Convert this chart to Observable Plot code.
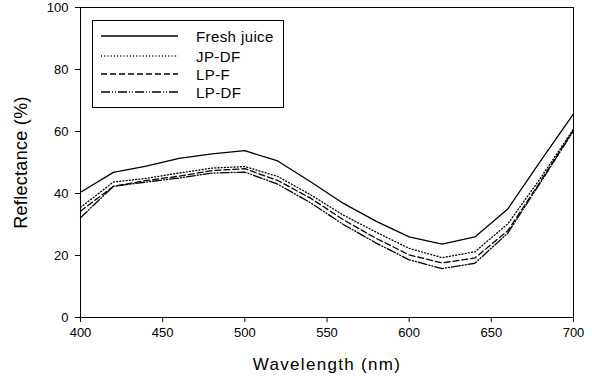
<!DOCTYPE html>
<html>
<head>
<meta charset="utf-8">
<script src="https://cdn.jsdelivr.net/npm/d3@7"></script>
<script src="https://cdn.jsdelivr.net/npm/@observablehq/plot@0.6"></script>
<style>
  html, body { margin: 0; padding: 0; background: #fff; }
  #wrap { position: relative; width: 592px; height: 377px; font-family: Arial, "Liberation Sans", sans-serif; }
  #legend { position: absolute; left: 92px; top: 20px; width: 192px; height: 88px; border: 1px solid #000; box-sizing: border-box; background: #fff; }
  #legend .row { position: absolute; left: 0; height: 18px; display: flex; align-items: center; }
  #legend .row span { font-size: 15px; letter-spacing: 0.4px; color: #000; margin-left: 18px; }
  #legend svg { margin-left: 8px; }
</style>
</head>
<body>
<div id="wrap"></div>
<script>
const wavelengths = [400,420,440,460,480,500,520,540,560,580,600,620,640,660,680,700];
const freshJuice = [40.4,46.8,48.8,51.3,52.8,53.8,50.5,43.8,36.8,31.0,26.0,23.7,26.0,35.0,50.5,65.7];
const jpDF      = [35.5,43.7,44.9,46.6,48.2,48.7,45.5,39.6,33.0,27.5,22.3,19.3,21.2,30.2,45.0,60.8];
const lpF       = [34.3,42.3,44.2,45.6,47.4,48.0,44.2,38.5,31.5,25.5,20.2,17.6,19.2,28.0,44.0,60.5];
const lpDF      = [32.2,42.3,43.7,45.0,46.6,46.9,43.0,37.0,30.0,24.0,18.6,15.8,17.5,27.2,43.6,60.2];
const seriesNames = ["Fresh juice", "JP-DF", "LP-F", "LP-DF"];
const seriesValues = [freshJuice, jpDF, lpF, lpDF];
const dashes = ["none", "1,2.2", "6,3", "9,2,1,2,1,2"];
const xTicks = [400,450,500,550,600,650,700];
const yTicks = [0,20,40,60,80,100];

const marks = [];
seriesValues.forEach((vals, i) => {
  const rows = wavelengths.map((w, j) => ({w, v: vals[j]}));
  marks.push(Plot.line(rows, {x: "w", y: "v", stroke: "#000", strokeWidth: 1.3, strokeDasharray: dashes[i]}));
});

const chart = Plot.plot({
  width: 592,
  height: 377,
  marginLeft: 80,
  marginRight: 19,
  marginTop: 7,
  marginBottom: 60,
  style: {fontFamily: "Arial, 'Liberation Sans', sans-serif", background: "#fff", color: "#000"},
  x: {domain: [400, 700]},
  y: {domain: [0, 100]},
  marks: [
    ...marks,
    Plot.frame({stroke: "#000", strokeWidth: 1}),
    Plot.axisX({ticks: xTicks, tickSize: 5, tickPadding: 5, fontSize: 13, label: "Wavelength (nm)", labelAnchor: "center", labelArrow: "none", labelOffset: 52}),
    Plot.axisY({ticks: yTicks, tickSize: 5, tickPadding: 7, fontSize: 13, label: "Reflectance (%)", labelAnchor: "center", labelArrow: "none", labelOffset: 66})
  ]
});
chart.querySelectorAll("g[aria-label='x-axis label'] text").forEach(t => { t.setAttribute("font-size", "17"); t.style.letterSpacing = "1.3px"; });
chart.querySelectorAll("g[aria-label='y-axis label'] text").forEach(t => { t.setAttribute("font-size", "18"); t.style.letterSpacing = "0.3px"; });

const wrap = document.getElementById("wrap");
wrap.appendChild(chart);

const legend = document.createElement("div");
legend.id = "legend";
const rowTops = [6, 26, 44, 62];
seriesNames.forEach((name, i) => {
  const row = document.createElement("div");
  row.className = "row";
  row.style.top = rowTops[i] + "px";
  row.innerHTML = `<svg width="77" height="4"><line x1="0" x2="77" y1="2" y2="2" stroke="#000" stroke-width="1.3" stroke-dasharray="${dashes[i]}"/></svg><span>${name}</span>`;
  legend.appendChild(row);
});
wrap.appendChild(legend);
</script>
</body>
</html>
